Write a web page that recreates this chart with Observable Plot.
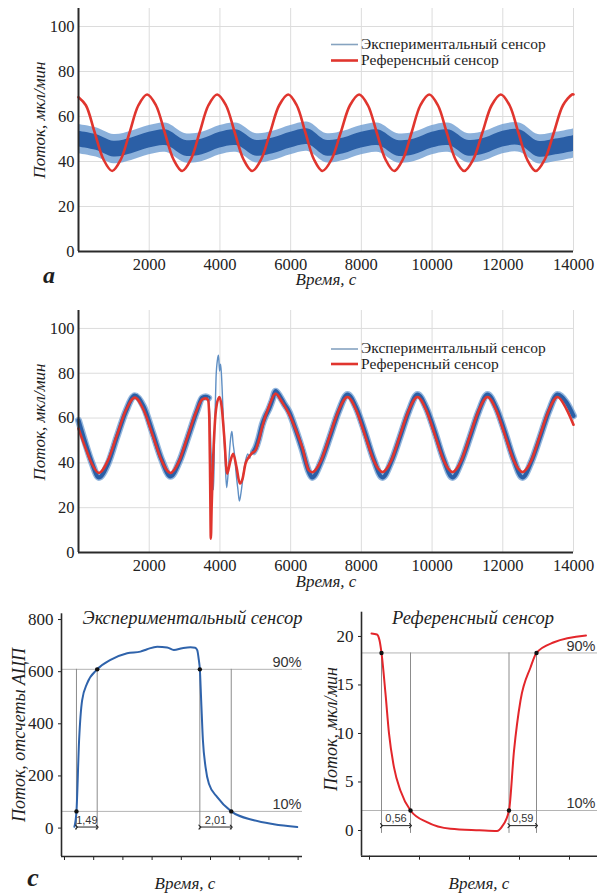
<!DOCTYPE html>
<html><head><meta charset="utf-8">
<script src="https://cdn.jsdelivr.net/npm/d3@7"></script>
<script src="https://cdn.jsdelivr.net/npm/@observablehq/plot@0.6"></script>
<style>
body{margin:0;background:#fff;}
#root{position:relative;width:597px;height:893px;overflow:hidden;background:#fff;}
</style></head><body><div id="root"></div>
<script>
// ---------- DATA ----------
// panels a & b: time axis and value axis ticks
const abXTicks = [2000,4000,6000,8000,10000,12000,14000];
const abYTicks = [0,20,40,60,80,100];
const seriesNames = ["Экспериментальный сенсор","Референсный сенсор"];

// panel a, reference sensor
const aRedT = [0,208,456,704,952,1200,1447,1695,1942,2190,2437,2685,2932,3180,3427,3675,3922,4170,4417,4665,4912,5167,5421,5676,5930,6172,6415,6657,6900,7159,7418,7678,7937,8185,8432,8680,8928,9175,9423,9670,9918,10165,10413,10660,10908,11167,11426,11685,11944,12191,12439,12686,12934,13190,13447,13703,13960,14000];
const aRedV = [68.6,65,53,41,35.8,41,53,65,69.8,65,53,41,35.8,41,53,65,69.8,65,53,41,35.8,41,53,65,69.8,65,53,41,35.8,41,53,65,69.8,65,53,41,35.8,41,53,65,69.8,65,53,41,35.8,41,53,65,69.8,65,53,41,35.8,41,53,65,69.8,69.8];
// panel a, experimental sensor (noisy band: outer and inner envelopes)
const aBlueT = [0,500,1000,1500,2000,2500,3000,3500,4000,4500,5000,5500,6000,6500,7000,7500,8000,8500,9000,9500,10000,10500,11000,11500,12000,12500,13000,13500,14000];
const aBlueHiOuter = [56.5,55,52,53.5,56,57,52.5,53,56,57,52.5,53.5,56,57.5,52.5,53.5,56,57,52.5,53,56,57,52.5,53.5,56.5,57,52,53,54.5];
const aBlueLoOuter = [43.5,42,39,40.5,43,44,39.5,40,43,44,39.5,40.5,43,44.5,39.5,40.5,43,44,39.5,40,43,44,39.5,40.5,43.5,44,39,40,41.5];
const aBlueHiInner = [53.5,52,49,50.5,53,54,49.5,50,53,54,49.5,50.5,53,54.5,49.5,50.5,53,54,49.5,50,53,54,49.5,50.5,53.5,54,49,50,51.5];
const aBlueLoInner = [46.5,45,42,43.5,46,47,42.5,43,46,47,42.5,43.5,46,47.5,42.5,43.5,46,47,42.5,43,46,47,42.5,43.5,46.5,47,42,43,44.5];

// panel b, reference sensor
const bRedT = [0,190,380,575,830,1085,1339,1593,1845,2097,2350,2602,2850,3097,3345,3500,3600,3665,3700,3725,3743,3765,3800,3850,3910,3988,4050,4120,4205,4290,4375,4470,4563,4640,4723,4818,4920,5006,5100,5195,5384,5572,5760,5950,6140,6326,6515,6609,6859,7109,7358,7608,7855,8103,8350,8598,8845,9093,9340,9588,9835,10083,10330,10578,10825,11073,11320,11568,11815,12063,12310,12558,12806,13054,13301,13549,13800,14000];
const bRedV = [55.3,47,39.5,35.5,41,52.3,63.5,69.1,63.5,52.3,41,35.5,41,52.3,63.5,68.3,68.8,68,60,30,6.2,20,38,56,66,69.4,65,52,35.2,40.5,44.1,38,30.8,33,39.7,42.6,44.5,45.6,50,56,65,70.9,67,62,55,47,36.7,35.8,41,52.3,63.5,69.4,63.5,52.3,41,35.9,41,52.3,63.5,69.4,63.5,52.3,41,35.9,41,52.3,63.5,69.4,63.5,52.3,41,35.9,41,52.3,63.5,69.4,64,57];
// panel b, experimental sensor: before, during and after the disturbance
const bBlue1T = [0,190,380,575,830,1085,1339,1593,1845,2097,2350,2602,2850,3097,3345,3500,3600,3680];
const bBlue1V = [59,49,40,33.5,39.5,51.5,63,70,65,53.5,41.5,34,40.5,51.5,63,69,69.5,69];
const bBlue2T = [3680,3710,3750,3790,3820,3850,3890,3930,3960,3990,4020,4060,4100,4150,4190,4230,4270,4310,4340,4370,4410,4460,4510,4550,4590,4640,4690,4740,4790,4840,4890,4950];
const bBlue2V = [69,62,45,32,28,55,78,86,88,81,84,74,58,40,29,35,45,52,54,49,44,35,28,23,26,32,38,42,44,42,45,45];
const bBlue3T = [4950,5006,5100,5195,5290,5384,5480,5572,5700,5830,5950,6140,6326,6515,6609,6859,7109,7358,7608,7855,8103,8350,8598,8845,9093,9340,9588,9835,10083,10330,10578,10825,11073,11320,11568,11815,12063,12310,12558,12806,13054,13301,13549,13800,14000];
const bBlue3V = [45,46.5,51,57,61,64,68,72,69.5,66,63,55,46,36,33.5,40.5,51.5,63,70.5,64.5,53.5,41.5,33.5,40.5,51.5,63,70.5,64.5,53.5,41.5,33.5,40.5,51.5,63,70.5,64.5,53.5,41.5,33.5,40.5,51.5,63,70.5,67,61];

// panel c, left: experimental sensor (ADC counts vs time, s)
const cLT = [0.68,0.82,1.0,1.21,1.55,2.24,3.15,4.29,5.2,5.66,6.35,7.03,7.49,8.06,8.63,8.95,9.09,9.2,9.27,9.36,9.48,9.66,9.89,10.46,11.42,12.97,14.34,15.94];
const cLV = [5,64,337,491,555,609,645,671,677,686,696,693,683,690,694,692,683,645,609,491,337,234,170,119,64,30,15,4];
const cLCrossT = [0.82,2.24,9.27,11.42];
const cLCrossV = [64,609,609,64];
const cLLevels = [609,64];
const cLYTicks = [0,200,400,600,800];
const cLXTicks = [0,2,4,6,8,10,12,14,16];
// panel c, right: reference sensor
const cRT = [0.04,0.15,0.2,0.24,0.32,0.39,0.49,0.62,0.82,1.15,1.62,2.2,2.55,2.65,2.79,2.89,3.02,3.22,3.34,3.69,4.33];
const cRV = [20.3,20.2,19.6,18.3,14.1,10,6.5,4.1,2.06,0.86,0.17,0.02,-0.05,0.4,2.06,8.2,13.4,16.8,18.3,19.4,20.1];
const cRCrossT = [0.24,0.82,2.79,3.34];
const cRCrossV = [18.3,2.06,2.06,18.3];
const cRLevels = [18.3,2.06];
const cRYTicks = [0,5,10,15,20];
const cRXTicks = [0,1,2,3,4];
const levelLabels = ["90%","10%"];
const cLIntervalLabels = ["1,49","2,01"];
const cRIntervalLabels = ["0,56","0,59"];

// ---------- HELPERS ----------
const root = document.getElementById("root");
function place(node, left, top){ node.style.position="absolute"; node.style.left=left+"px"; node.style.top=top+"px"; root.appendChild(node); }
const zip = (T,V) => T.map((t,i)=>({t, v:V[i]}));
const SERIF = "'Liberation Serif', 'Times New Roman', serif";
const SANS = "'Liberation Sans', Arial, sans-serif";
const RED = "#e0352e", BLUE_D = "#2b5fa6", BLUE_L = "#6f9dd2";
const GRID = "#dcdcdc", AXIS = "#2a2a2a";

function timeSeriesPlot(cfg){
  return Plot.plot({
    width:597, height:cfg.height, marginLeft:78, marginRight:24, marginTop:cfg.mt, marginBottom:cfg.mb,
    x:{domain:[0,14000]}, y:{domain:[0,108]},
    style:{fontFamily:SERIF, fontSize:"16.5px", color:"#222", background:"transparent"},
    marks:[
      Plot.gridX(abXTicks, {stroke:GRID, strokeOpacity:1}),
      Plot.gridY(abYTicks.filter(d=>d>0), {stroke:GRID, strokeOpacity:1}),
      ...cfg.marks,
      Plot.axisX(abXTicks, {tickSize:0, tickPadding:cfg.xpad, tickFormat:d=>String(d), label:null, fontFamily:SERIF}),
      Plot.axisY(abYTicks, {tickSize:0, tickPadding:4, label:null, fontFamily:SERIF}),
      Plot.ruleX([0], {stroke:AXIS, strokeWidth:2}),
      Plot.ruleY([0], {stroke:AXIS, strokeWidth:2})
    ]
  });
}

// ---------- PANEL a ----------
const aBand = aBlueT.map((t,i)=>({t, lo:aBlueLoOuter[i], hi:aBlueHiOuter[i], lo2:aBlueLoInner[i], hi2:aBlueHiInner[i]}));
place(timeSeriesPlot({height:290, mt:8, mb:39, xpad:7, marks:[
  Plot.areaY(aBand, {x:"t", y1:"lo", y2:"hi", fill:BLUE_L, fillOpacity:0.8, curve:"catmull-rom"}),
  Plot.areaY(aBand, {x:"t", y1:"lo2", y2:"hi2", fill:BLUE_D, curve:"catmull-rom"}),
  Plot.line(zip(aRedT,aRedV), {x:"t", y:"v", stroke:RED, strokeWidth:2.6, curve:"catmull-rom"})
]}), 0, 0);

// ---------- PANEL b ----------
const bBlueThick = [...zip(bBlue1T,bBlue1V).map(d=>({...d,s:1})), ...zip(bBlue3T,bBlue3V).map(d=>({...d,s:3}))];
place(timeSeriesPlot({height:300, mt:10, mb:48, xpad:6.5, marks:[
  Plot.line(bBlueThick, {x:"t", y:"v", z:"s", stroke:BLUE_L, strokeWidth:7, strokeOpacity:0.75, curve:"monotone-x"}),
  Plot.line(bBlueThick, {x:"t", y:"v", z:"s", stroke:BLUE_D, strokeWidth:4.2, curve:"monotone-x"}),
  Plot.line(zip(bBlue2T,bBlue2V), {x:"t", y:"v", stroke:"#5f8fc4", strokeWidth:1.4, curve:"monotone-x"}),
  Plot.line(zip(bRedT,bRedV), {x:"t", y:"v", stroke:RED, strokeWidth:2.6, curve:"monotone-x"})
]}), 0, 300);

// ---------- PANEL c ----------
function stepPlot(cfg){
  const cross = cfg.crossT.map((t,i)=>({t, v:cfg.crossV[i]}));
  const intervals = cfg.labels.map((lab,i)=>({x1:cfg.crossT[2*i], x2:cfg.crossT[2*i+1], lab}));
  const levels = cfg.levels.map((v,i)=>({v, lab:levelLabels[i]}));
  return Plot.plot({
    width:cfg.width, height:293, marginLeft:cfg.ml, marginRight:cfg.mr, marginTop:cfg.mt, marginBottom:cfg.mb,
    x:{domain:cfg.xd}, y:{domain:cfg.yd},
    style:{fontFamily:SERIF, fontSize:"17px", color:"#222", background:"transparent"},
    marks:[
      Plot.ruleY(cfg.levels, {stroke:"#b4b4b4", strokeWidth:1}),
      Plot.ruleX(cfg.crossT, {y1:cfg.vBottom, y2:cfg.levels[0], stroke:"#8c8c8c", strokeWidth:1}),
      Plot.line(zip(cfg.T,cfg.V), {x:"t", y:"v", stroke:cfg.color, strokeWidth:2, curve:"monotone-x"}),
      Plot.dot(cross, {x:"t", y:"v", r:2.2, fill:"#111", stroke:null}),
      Plot.link(intervals, {x1:"x1", x2:"x2", y1:()=>cfg.arrowV, y2:()=>cfg.arrowV, stroke:"#222", strokeWidth:1, markerStart:"arrow", markerEnd:"arrow"}),
      Plot.text(intervals, {x:d=>(d.x1+d.x2)/2, y:()=>cfg.arrowV, text:"lab", dy:-7, fontFamily:SANS, fontSize:11, fill:"#333"}),
      Plot.text(levels, {x:()=>cfg.xd[1], y:"v", text:"lab", textAnchor:"end", dx:cfg.pctDx, dy:-7, fontFamily:SANS, fontSize:14.5, fill:"#333"}),
      Plot.axisY(cfg.yTicks, {tickSize:3, tickPadding:5, label:null, fontFamily:SERIF}),
      Plot.axisX(cfg.xTicks, {tickSize:4, tickFormat:()=>"", label:null}),
      Plot.ruleX([cfg.xd[0]], {stroke:AXIS, strokeWidth:1.6}),
      Plot.ruleY([cfg.yd[0]], {stroke:AXIS, strokeWidth:1.6})
    ]
  });
}
place(stepPlot({width:310, ml:61, mr:8, mt:13.3, mb:37, xd:[-0.205,16.3], yd:[-109,822],
  T:cLT, V:cLV, crossT:cLCrossT, crossV:cLCrossV, levels:cLLevels, labels:cLIntervalLabels,
  yTicks:cLYTicks, xTicks:cLXTicks, color:"#2f63ab", vBottom:-8, arrowV:4, pctDx:-1}), 0, 600);
place(stepPlot({width:293, ml:51, mr:0, mt:11.7, mb:37.3, xd:[-0.16,4.68], yd:[-2.65,22.5],
  T:cRT, V:cRV, crossT:cRCrossT, crossV:cRCrossV, levels:cRLevels, labels:cRIntervalLabels,
  yTicks:cRYTicks, xTicks:cRXTicks, color:"#e3262b", vBottom:-0.3, arrowV:0.5, pctDx:-8}), 310, 600);

// ---------- TEXT OVERLAY (titles, axis titles, legends) ----------
const ov = d3.create("svg").attr("width",597).attr("height",893)
  .style("position","absolute").style("left","0").style("top","0").style("pointer-events","none");
function t(x,y,txt,o={}){
  const e = ov.append("text").attr("font-family",o.sans?SANS:SERIF).attr("font-size",o.size||17)
    .attr("font-style",o.italic===false?"normal":"italic").attr("font-weight",o.bold?"bold":"normal")
    .attr("fill","#1e1e1e").attr("text-anchor",o.anchor||"middle").text(txt);
  if(o.rot) e.attr("transform",`translate(${x},${y}) rotate(-90)`); else e.attr("x",x).attr("y",y);
}
// panel a
t(45,120,"Поток, мкл/мин",{rot:true});
t(326,284.5,"Время, с");
t(49,283,"a",{bold:true,size:24});
// panel b
t(45,422,"Поток, мкл/мин",{rot:true});
t(326,587,"Время, с");
// legends
function legend(y1,y2){
  ov.append("line").attr("x1",331).attr("x2",358).attr("y1",y1).attr("y2",y1).attr("stroke","#86a3c0").attr("stroke-width",1.6);
  ov.append("line").attr("x1",331).attr("x2",358).attr("y1",y2).attr("y2",y2).attr("stroke",RED).attr("stroke-width",2.6);
  t(361,y1+4,seriesNames[0],{italic:false,anchor:"start",size:15.5});
  t(361,y2+4.5,seriesNames[1],{italic:false,anchor:"start",size:15.5});
}
legend(44.5,60.5);
legend(349,364);
// panel c
t(192.5,624,"Экспериментальный сенсор",{size:18.5});
t(473,624,"Референсный сенсор",{size:18.5});
t(25,735,"Поток, отсчеты АЦП",{rot:true,size:18});
t(337,729,"Поток, мкл/мин",{rot:true,size:18});
t(185,888.5,"Время, с");
t(479,888.5,"Время, с");
t(33,886,"c",{bold:true,size:26});
root.appendChild(ov.node());
</script></body></html>
